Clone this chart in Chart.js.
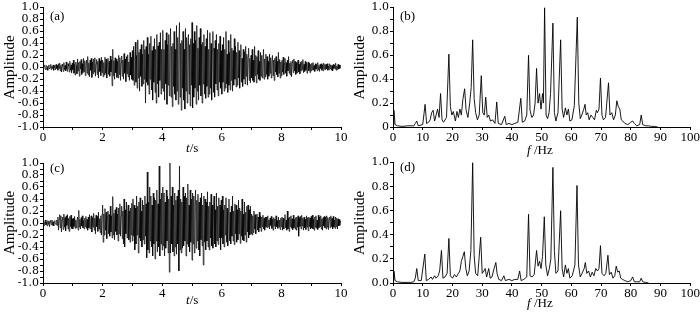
<!DOCTYPE html>
<html>
<head>
<meta charset="utf-8">
<script src="https://cdn.jsdelivr.net/npm/chart.js@4.4.0/dist/chart.umd.min.js"></script>
<style>
body { margin: 0; background: #fff; }
#wrap { position: relative; width: 700px; height: 314px; font-family: 'Liberation Serif', serif; color: #000; }
canvas { position: absolute; }
.lab { position: absolute; font-size: 13px; line-height: 13px; white-space: nowrap; }
</style>
</head>
<body>
<div id="wrap">
  <canvas id="ca" width="350" height="155" style="left:0;top:0"></canvas>
  <canvas id="cb" width="350" height="155" style="left:350px;top:0"></canvas>
  <canvas id="cc" width="350" height="159" style="left:0;top:155px"></canvas>
  <canvas id="cd" width="350" height="159" style="left:350px;top:155px"></canvas>
  <div class="lab" style="left:50px;top:9px">(a)</div>
  <div class="lab" style="left:400px;top:9px">(b)</div>
  <div class="lab" style="left:50px;top:161px">(c)</div>
  <div class="lab" style="left:400px;top:160px">(d)</div>
  <div class="lab" style="left:186px;top:141px"><i>t</i>/s</div>
  <div class="lab" style="left:527px;top:143px"><i>f</i> /Hz</div>
  <div class="lab" style="left:186px;top:293px"><i>t</i>/s</div>
  <div class="lab" style="left:527px;top:296px"><i>f</i> /Hz</div>
</div>
<script>
// sampling step of the records (s)
const dt = 0.02;

// (a) original record, 0.5 s per line
const signalA = [
  0.01,-0.03,0.02,0.04,-0.02,-0.04,0.03,0.01,-0.05,0.02,0.04,-0.03,-0.01,0.05,-0.04,0.02,-0.02,0.04,-0.05,0.03,0.01,-0.04,0.05,-0.02,0.03,
  -0.05,0.06,-0.02,0.07,-0.06,0.03,-0.08,0.05,0.02,-0.07,0.08,-0.04,0.03,-0.06,0.09,-0.03,-0.07,0.06,0.02,-0.08,0.1,-0.05,0.04,-0.09,0.07,
  -0.04,0.12,-0.1,0.05,-0.13,0.09,0.03,-0.11,0.14,-0.06,0.08,-0.15,0.1,-0.03,0.13,-0.12,0.06,-0.09,0.15,-0.07,0.11,-0.14,0.04,0.12,-0.1,
  0.18,-0.13,0.07,-0.16,0.12,-0.05,0.15,-0.17,0.09,-0.11,0.14,-0.08,0.16,-0.15,0.06,0.13,-0.12,0.1,-0.18,0.15,-0.07,0.11,-0.14,0.17,-0.09,
  0.12,-0.16,0.08,-0.13,0.17,-0.1,0.14,-0.18,0.06,0.15,-0.12,0.1,-0.15,0.19,-0.08,0.13,-0.31,0.3,-0.14,0.11,-0.2,0.16,-0.09,0.14,-0.17,
  0.1,-0.18,0.2,-0.12,0.16,-0.22,0.08,0.19,-0.15,0.12,-0.2,0.23,-0.1,0.14,-0.24,0.18,-0.11,0.21,-0.16,0.09,-0.22,0.25,-0.13,0.17,-0.2,
  0.28,-0.22,0.35,-0.3,0.15,0.42,-0.25,0.2,-0.35,0.46,-0.18,0.25,-0.4,0.3,-0.15,0.38,-0.32,0.22,-0.28,0.45,-0.2,0.3,-0.6,0.35,-0.25,
  0.5,-0.3,0.22,-0.45,0.4,-0.2,0.52,-0.38,0.28,-0.55,0.35,-0.25,0.48,-0.42,0.3,-0.6,0.55,-0.28,0.36,-0.5,0.42,-0.22,0.58,-0.45,0.3,
  -0.35,0.62,-0.4,0.3,-0.55,0.45,-0.28,0.58,-0.62,0.38,-0.3,0.55,-0.48,0.25,0.65,-0.5,0.35,-0.66,0.4,-0.32,0.6,-0.45,0.3,-0.55,0.7,
  -0.4,0.5,-0.62,0.35,0.75,-0.5,0.4,-0.72,0.45,-0.35,0.6,-0.55,0.3,-0.7,0.65,-0.4,0.5,-0.6,0.35,0.55,-0.45,0.38,-0.65,0.48,-0.3,
  0.75,-0.68,0.4,-0.5,0.6,-0.35,0.45,-0.62,0.7,-0.4,0.32,-0.55,0.5,-0.3,0.65,-0.48,0.38,-0.6,0.42,-0.28,0.55,-0.45,0.35,-0.52,0.48,
  -0.32,0.62,-0.5,0.3,-0.45,0.58,-0.35,0.4,-0.55,0.28,0.6,-0.42,0.32,-0.5,0.45,-0.28,0.55,-0.38,0.3,-0.48,0.4,-0.25,0.52,-0.35,0.28,
  -0.45,0.38,-0.25,0.5,-0.4,0.3,-0.35,0.6,-0.28,0.22,-0.42,0.45,-0.3,0.25,-0.38,0.55,-0.22,0.32,-0.4,0.28,-0.3,0.48,-0.2,0.35,-0.33,
  0.25,-0.3,0.42,-0.18,0.28,-0.35,0.2,0.38,-0.25,0.15,-0.32,0.3,-0.2,0.26,-0.28,0.35,-0.15,0.22,-0.3,0.18,0.32,-0.22,0.15,-0.26,0.2,
  -0.18,0.3,-0.22,0.12,-0.25,0.35,-0.14,0.2,-0.26,0.18,-0.12,0.28,-0.2,0.1,-0.22,0.25,-0.15,0.2,-0.18,0.12,0.3,-0.2,0.14,-0.16,0.22,
  -0.12,0.18,-0.2,0.1,-0.15,0.22,-0.1,0.16,-0.18,0.08,0.2,-0.14,0.12,-0.22,0.15,-0.08,0.18,-0.12,0.1,-0.16,0.25,-0.1,0.13,-0.18,0.09,
  -0.14,0.12,-0.08,0.17,-0.12,0.06,0.15,-0.1,0.08,-0.15,0.12,-0.06,0.18,-0.1,0.07,-0.13,0.1,-0.16,0.08,0.12,-0.09,0.14,-0.06,0.1,-0.12,
  0.08,-0.1,0.06,0.12,-0.08,0.05,-0.11,0.09,-0.06,0.1,-0.04,0.13,-0.09,0.05,-0.07,0.1,-0.05,0.08,-0.1,0.04,0.09,-0.06,0.07,-0.09,0.05,
  -0.06,0.07,-0.04,0.08,-0.05,0.03,-0.07,0.06,-0.03,0.05,-0.06,0.08,-0.04,0.03,-0.07,0.05,-0.02,0.06,-0.05,0.04,-0.06,0.07,-0.03,0.05,-0.04,
  0.05,-0.03,0.06,-0.05,0.02,-0.04,0.06,-0.02,0.04,-0.05,0.03,-0.06,0.05,-0.02,0.04,-0.03,0.07,-0.05,0.02,-0.04,0.05,-0.03,0.04,-0.02,0.03,0.01
];

// (c) simulated record, 0.5 s per line
const signalC = [
  -0.02,0.03,-0.04,0.02,0.05,-0.03,0.01,-0.05,0.04,-0.02,0.03,-0.06,0.04,0.02,-0.03,0.05,-0.04,0.02,-0.05,0.03,0.04,-0.02,-0.03,0.05,-0.04,
  0.1,-0.12,0.06,0.14,-0.08,0.12,-0.15,0.05,0.1,-0.11,0.15,-0.07,0.09,-0.13,0.12,-0.04,0.14,-0.1,0.08,-0.14,0.11,-0.06,0.13,-0.09,0.07,
  -0.1,0.08,-0.06,0.11,-0.09,0.05,-0.08,0.04,0.1,-0.12,0.21,-0.07,0.06,-0.1,0.09,-0.05,0.12,-0.08,0.04,-0.1,0.08,-0.06,0.11,-0.09,0.06,
  -0.12,0.1,-0.08,0.14,-0.1,0.06,0.12,-0.15,0.09,-0.07,0.16,-0.12,0.08,-0.18,0.13,-0.06,0.11,-0.14,0.18,-0.1,0.07,-0.16,0.12,-0.2,0.15,
  0.3,-0.32,0.15,-0.2,0.24,-0.12,0.18,-0.26,0.1,0.2,-0.18,0.14,-0.22,0.28,-0.15,0.12,-0.25,0.44,-0.2,0.16,-0.28,0.22,-0.14,0.26,-0.2,
  0.15,-0.3,0.25,-0.18,0.32,-0.22,0.12,0.28,-0.26,0.2,-0.35,0.4,-0.4,0.22,-0.18,0.35,-0.25,0.15,0.3,-0.28,0.2,-0.32,0.25,-0.2,0.33,
  -0.3,0.4,-0.22,0.3,-0.45,0.25,-0.35,0.45,-0.2,0.28,-0.5,0.35,-0.25,0.42,-0.3,0.2,-0.4,0.38,-0.28,0.3,-0.35,0.45,-0.22,0.32,-0.58,
  0.85,-0.45,0.35,-0.5,0.6,-0.3,0.45,-0.4,0.3,-0.55,0.5,-0.35,0.42,-0.6,0.38,-0.3,0.55,-0.48,0.32,-0.4,0.95,-0.55,0.4,-0.35,0.5,
  -0.45,0.6,-0.38,0.5,-0.55,0.35,-0.42,0.55,-0.3,0.45,-0.5,0.4,-0.82,1.0,-0.5,0.45,-0.35,0.6,-0.48,0.3,-0.55,0.5,-0.4,0.38,-0.52,
  0.45,-0.35,0.55,-0.8,0.95,-0.45,0.4,-0.5,0.35,-0.42,0.6,-0.38,0.45,-0.3,0.5,-0.55,0.42,-0.35,0.65,-0.4,0.3,-0.48,0.55,-0.32,0.4,
  -0.62,0.5,-0.35,0.45,-0.5,0.3,0.55,-0.42,0.38,-0.3,0.48,-0.45,0.35,-0.55,0.42,-0.28,0.5,-0.38,0.3,-0.7,0.45,-0.32,0.4,-0.45,0.35,
  -0.3,0.52,-0.4,0.28,-0.45,0.35,-0.25,0.48,-0.38,0.3,-0.42,0.25,0.45,-0.35,0.22,-0.4,0.5,-0.3,0.28,-0.36,0.42,-0.25,0.3,-0.45,0.38,
  -0.25,0.45,-0.35,0.22,-0.4,0.3,-0.2,0.42,-0.32,0.25,-0.38,0.2,0.4,-0.3,0.18,-0.35,0.28,-0.22,0.45,-0.3,0.2,-0.36,0.32,-0.18,0.3,
  -0.32,0.22,-0.28,0.38,-0.18,0.25,-0.34,0.2,-0.22,0.4,-0.28,0.15,-0.3,0.35,-0.2,0.18,-0.32,0.28,-0.15,0.3,-0.25,0.22,-0.2,0.28,-0.18,
  0.15,-0.2,0.12,-0.16,0.2,-0.1,0.14,-0.18,0.08,0.15,-0.12,0.1,-0.15,0.18,-0.08,0.12,-0.14,0.1,-0.06,0.13,-0.1,0.08,-0.12,0.1,-0.07,
  0.1,-0.08,0.12,-0.06,0.05,-0.1,0.08,-0.04,0.11,-0.09,0.06,-0.12,0.09,-0.05,0.07,-0.1,0.12,-0.06,0.04,-0.09,0.1,-0.07,0.05,-0.11,0.08,
  -0.06,0.1,-0.12,0.08,-0.1,0.06,0.14,-0.08,0.05,-0.12,0.2,-0.1,0.08,-0.14,0.1,-0.06,0.12,-0.09,0.07,-0.11,0.13,-0.08,0.06,-0.1,0.09,
  -0.12,0.1,-0.07,0.12,-0.22,0.09,-0.06,0.11,-0.1,0.13,-0.05,0.08,-0.12,0.1,-0.08,0.06,-0.11,0.12,-0.07,0.09,-0.13,0.1,-0.06,0.08,-0.1,
  0.11,-0.08,0.13,-0.1,0.06,-0.12,0.1,-0.07,0.12,-0.09,0.05,-0.11,0.13,-0.08,0.1,-0.06,0.12,-0.1,0.07,-0.12,0.09,-0.05,0.11,-0.08,0.1,
  -0.1,0.12,-0.07,0.09,-0.11,0.06,0.1,-0.08,0.12,-0.06,0.08,-0.1,0.11,-0.07,0.05,-0.09,0.1,-0.06,0.08,-0.1,0.07,-0.05,0.06,-0.04,0.03,0.01
];

// (b) spectrum of (a): frequency (Hz) and amplitude
const freqB = [0,0.3,0.7,1.5,3,5,7,7.5,8,8.5,10,10.8,11.3,12,12.5,13,13.5,14,14.5,15,15.5,16,16.5,17,18,18.8,19.3,19.8,20.3,21,21.5,22,22.5,23,23.5,24.1,24.6,25.2,25.8,26.3,26.8,27.3,27.8,28.4,29,29.7,30.2,30.7,31.2,31.7,32.2,32.8,33.5,34.3,34.9,35.4,36.5,37.6,38.1,39,40,41,42,43,43.5,44.3,45,45.6,46.1,46.7,47.3,47.8,48.3,48.8,49.3,49.8,50.3,50.6,51,51.5,52,52.5,53,53.8,54.3,54.8,55.5,56.4,56.9,57.4,58,58.5,59,59.5,60.2,61,62,62.5,63,63.5,64.2,64.6,65,65.5,66,66.6,67.2,67.8,68.4,68.8,69.3,69.8,70.3,70.8,71.5,72.5,73,73.6,74.2,74.8,75.3,75.8,76.3,76.8,77.3,78,79,80,80.6,81.2,82,83,83.5,84,85,86,87,88,89];
const ampB  = [0.02,0.14,0.02,0.01,0.005,0.01,0.01,0.03,0.05,0.01,0.02,0.19,0.03,0.04,0.06,0.12,0.14,0.05,0.1,0.15,0.08,0.28,0.06,0.04,0.08,0.61,0.17,0.1,0.13,0.05,0.13,0.08,0.15,0.1,0.23,0.32,0.14,0.08,0.2,0.33,0.73,0.24,0.12,0.06,0.1,0.43,0.12,0.1,0.25,0.08,0.1,0.05,0.06,0.03,0.21,0.03,0.02,0.09,0.02,0.03,0.02,0.03,0.04,0.24,0.04,0.05,0.1,0.6,0.14,0.08,0.1,0.2,0.49,0.2,0.28,0.15,0.28,0.2,1.0,0.1,0.07,0.12,0.28,0.87,0.12,0.05,0.12,0.73,0.15,0.08,0.16,0.1,0.15,0.05,0.06,0.18,0.92,0.2,0.07,0.1,0.15,0.19,0.1,0.12,0.06,0.1,0.08,0.06,0.14,0.12,0.15,0.41,0.1,0.06,0.08,0.37,0.1,0.12,0.06,0.1,0.22,0.17,0.15,0.06,0.05,0.03,0.02,0.04,0.05,0.03,0.01,0.02,0.1,0.02,0.01,0.01,0.005,0.005,0];

// (d) spectrum of (c): frequency (Hz) and amplitude
const freqD = [0,0.3,0.7,1.5,3,6,7,7.5,8,8.5,9.5,10.7,11.2,12,12.8,13.3,14,14.5,15.2,15.7,16.3,16.8,17.5,18.2,18.8,19.3,20,20.7,21.3,22,22.5,23,23.5,24,24.5,25,25.6,26.2,26.8,27.3,27.8,28.5,29.5,30,30.6,31,31.5,32.2,32.7,33.3,34,34.6,35,35.6,36.5,37.3,37.8,39,40,41,42,42.6,43.1,44,45,45.6,46.1,46.8,47.5,48.3,48.8,49.3,49.8,50.3,50.9,51.4,52,52.6,53.1,53.8,54.3,54.8,55.5,56.4,56.9,57.4,58,58.5,59,59.5,60.3,61.2,61.9,62.4,63,63.6,64.3,64.7,65.2,65.8,66.4,67,67.6,68.2,68.8,69.3,69.8,70.3,71,71.6,72.3,72.8,73.4,74,74.6,75.1,75.6,76.1,76.6,77.2,78,79,80,80.6,81.2,82,83,83.5,84,85,86];
const ampD  = [0.02,0.1,0.02,0.01,0.005,0.005,0.01,0.04,0.12,0.02,0.02,0.24,0.02,0.03,0.05,0.03,0.06,0.04,0.06,0.1,0.27,0.04,0.05,0.08,0.37,0.06,0.04,0.07,0.05,0.08,0.1,0.18,0.22,0.26,0.12,0.06,0.1,0.27,1.0,0.23,0.08,0.06,0.38,0.08,0.1,0.12,0.05,0.12,0.04,0.05,0.12,0.17,0.08,0.03,0.02,0.06,0.02,0.03,0.02,0.03,0.03,0.1,0.02,0.03,0.05,0.57,0.06,0.05,0.07,0.27,0.14,0.18,0.12,0.22,0.55,0.15,0.06,0.12,0.2,0.96,0.26,0.08,0.1,0.6,0.12,0.05,0.15,0.08,0.12,0.04,0.06,0.15,0.81,0.15,0.05,0.08,0.12,0.17,0.08,0.1,0.05,0.09,0.06,0.12,0.1,0.12,0.31,0.08,0.06,0.08,0.23,0.07,0.09,0.04,0.06,0.14,0.09,0.1,0.04,0.03,0.02,0.01,0.02,0.05,0.01,0.01,0.01,0.04,0.01,0.005,0];

function timePoints(values) {
  return values.map((v, i) => ({ x: i * dt, y: v }));
}
function specPoints(freqs, amps) {
  return freqs.map((f, i) => ({ x: f, y: amps[i] }));
}

const serif = "'Liberation Serif', 'Times New Roman', serif";
Chart.defaults.font.family = serif;

function makePanel(id, points, xMax, xStep, xLabelEvery, yMin, zeroLabel, padTop, xHeight, lineWidth) {
  const ctx = document.getElementById(id).getContext('2d');
  return new Chart(ctx, {
    type: 'line',
    data: {
      datasets: [{
        data: points,
        borderColor: '#000',
        borderWidth: lineWidth,
        pointRadius: 0,
        tension: 0,
        fill: false
      }]
    },
    options: {
      responsive: false,
      animation: false,
      events: [],
      layout: { padding: { left: 1, right: 9, top: padTop, bottom: 0 } },
      plugins: { legend: { display: false }, tooltip: { enabled: false } },
      scales: {
        x: {
          type: 'linear',
          min: 0,
          max: xMax,
          afterFit: s => { s.height = xHeight; },
          border: { display: true, color: '#000', width: 1 },
          grid: { drawOnChartArea: false, drawTicks: true, tickLength: 3, color: '#000' },
          ticks: {
            stepSize: xStep,
            autoSkip: false,
            maxRotation: 0,
            padding: 0,
            color: '#000',
            font: { family: serif, size: 13 },
            callback: v => (Math.round(v / xStep) % xLabelEvery === 0 ? String(v) : '')
          }
        },
        y: {
          min: yMin,
          max: 1,
          afterFit: s => { s.width = 42; },
          border: { display: true, color: '#000', width: 1 },
          grid: { drawOnChartArea: false, drawTicks: true, tickLength: 3, color: '#000' },
          title: {
            display: true,
            text: 'Amplitude',
            color: '#000',
            padding: 0,
            font: { family: serif, size: 15 }
          },
          ticks: {
            stepSize: 0.1,
            autoSkip: false,
            padding: 1,
            color: '#000',
            font: { family: "'DejaVu Serif', serif", size: 11 },
            callback: v => {
              const k = Math.round(v * 10);
              if (k % 2 !== 0) return '';
              if (k === 0) return zeroLabel;
              return (k / 10).toFixed(1);
            }
          }
        }
      }
    }
  });
}

makePanel('ca', timePoints(signalA), 10, 1, 2, -1, '0.0', 7, 28, 0.7);
makePanel('cb', specPoints(freqB, ampB), 100, 10, 1, 0, '0', 7, 28, 0.9);
makePanel('cc', timePoints(signalC), 10, 1, 2, -1, '0.0', 8, 31, 0.7);
makePanel('cd', specPoints(freqD, ampD), 100, 10, 1, 0, '0.0', 7, 31, 0.9);
</script>
</body>
</html>
